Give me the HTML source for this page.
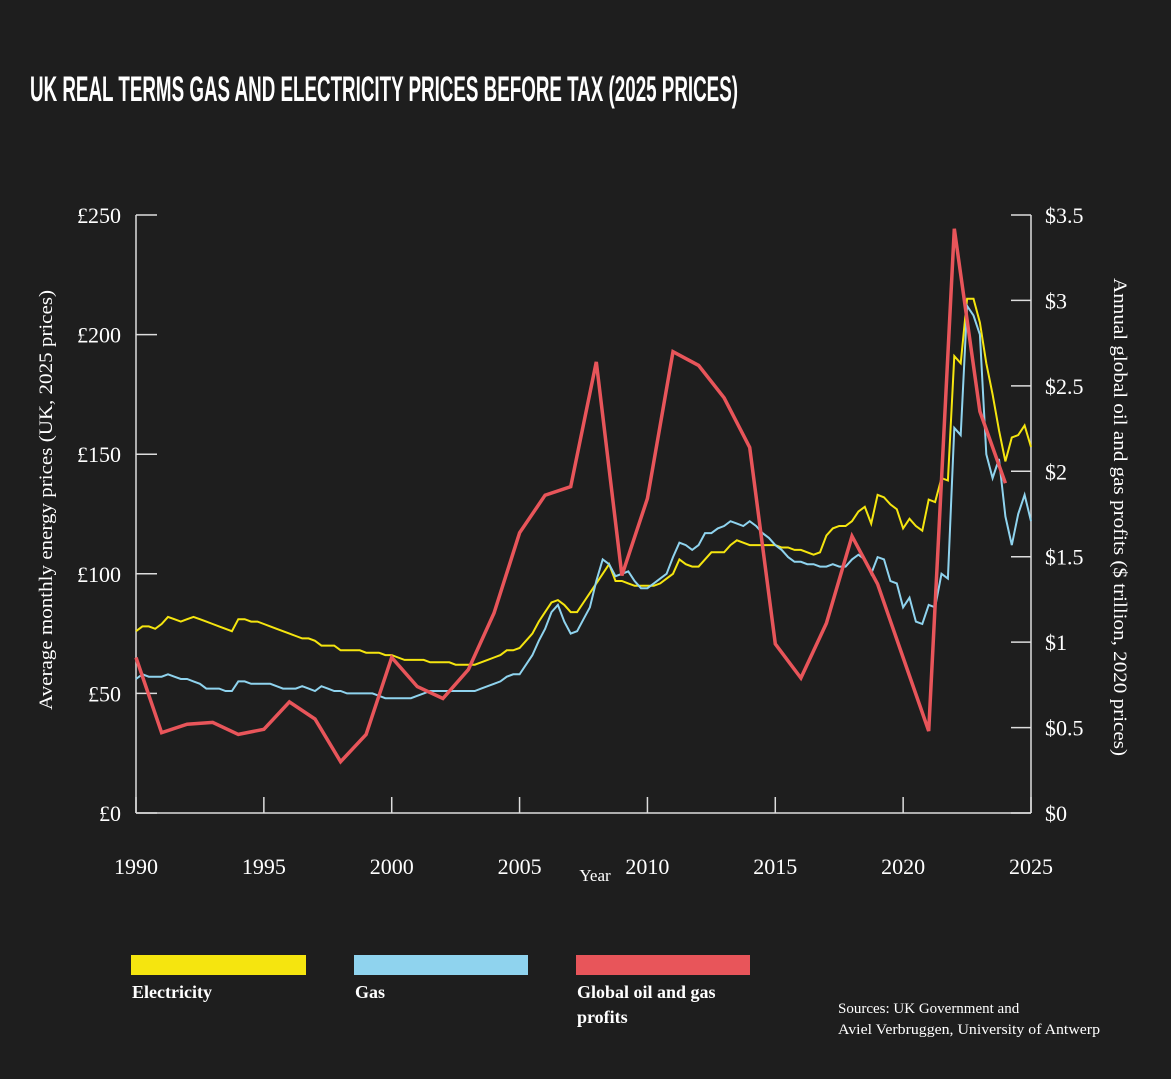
<!DOCTYPE html>
<html><head><meta charset="utf-8">
<style>
html,body{margin:0;padding:0;background:#1e1e1e;}
svg{display:block;}
.serif{font-family:"Liberation Serif",serif;fill:#fff;}
</style></head>
<body>
<svg id="chart" width="1171" height="1079" viewBox="0 0 1171 1079" xmlns="http://www.w3.org/2000/svg">
<rect width="1171" height="1079" fill="#1e1e1e"/>
<text x="30" y="101" textLength="708" lengthAdjust="spacingAndGlyphs" font-family="Liberation Sans Narrow, Liberation Sans, sans-serif" font-weight="bold" font-size="35" fill="#fff">UK REAL TERMS GAS AND ELECTRICITY PRICES BEFORE TAX (2025 PRICES)</text>
<g id="axes"></g>
<g id="series"></g>
<text class="serif" font-size="19" transform="translate(52,500) rotate(-90)" text-anchor="middle" textLength="420" lengthAdjust="spacingAndGlyphs">Average monthly energy prices (UK, 2025 prices)</text>
<text class="serif" font-size="19" transform="translate(1114,517) rotate(90)" text-anchor="middle" textLength="478" lengthAdjust="spacingAndGlyphs">Annual global oil and gas profits ($ trillion, 2020 prices)</text>
<text class="serif" font-size="17" x="595" y="881" text-anchor="middle">Year</text>
<g>
<rect x="131" y="955" width="175" height="20" fill="#f5e50f"/>
<text class="serif" font-size="18" font-weight="bold" x="132" y="998">Electricity</text>
<rect x="354" y="955" width="174" height="20" fill="#8fd3ee"/>
<text class="serif" font-size="18" font-weight="bold" x="355" y="998">Gas</text>
<rect x="576" y="955" width="174" height="20" fill="#e8555a"/>
<text class="serif" font-size="18" font-weight="bold" x="577" y="998">Global oil and gas</text>
<text class="serif" font-size="18" font-weight="bold" x="577" y="1023">profits</text>
</g>
<text class="serif" font-size="15" x="838" y="1013">Sources: UK Government and</text>
<text class="serif" font-size="15" x="838" y="1034" textLength="262" lengthAdjust="spacingAndGlyphs">Aviel Verbruggen, University of Antwerp</text>
</svg>
<script>
const leftTicks=[0,50,100,150,200,250];
const leftTickLabels=["£0","£50","£100","£150","£200","£250"];
const rightTicks=[0,0.5,1,1.5,2,2.5,3,3.5];
const rightTickLabels=["$0","$0.5","$1","$1.5","$2","$2.5","$3","$3.5"];
const xTicks=[1990,1995,2000,2005,2010,2015,2020,2025];
const electricity=[76,78,78,77,79,82,81,80,81,82,81,80,79,78,77,76,81,81,80,80,79,78,77,76,75,74,73,73,72,70,70,70,68,68,68,68,67,67,67,66,66,65,64,64,64,64,63,63,63,63,62,62,62,62,63,64,65,66,68,68,69,72,75,80,84,88,89,87,84,84,88,92,96,100,104,97,97,96,95,95,95,95,96,98,100,106,104,103,103,106,109,109,109,112,114,113,112,112,112,112,112,111,111,110,110,109,108,109,116,119,120,120,122,126,128,121,133,132,129,127,119,123,120,118,131,130,140,139,191,188,215,215,205,188,175,160,147,157,158,162,153];
const gas=[56,58,57,57,57,58,57,56,56,55,54,52,52,52,51,51,55,55,54,54,54,54,53,52,52,52,53,52,51,53,52,51,51,50,50,50,50,50,49,48,48,48,48,48,49,50,51,51,51,51,51,51,51,51,52,53,54,55,57,58,58,62,66,72,77,84,87,80,75,76,81,86,97,106,104,99,100,101,97,94,94,96,98,100,107,113,112,110,112,117,117,119,120,122,121,120,122,120,117,115,112,110,107,105,105,104,104,103,103,104,103,103,106,108,106,100,107,106,97,96,86,90,80,79,87,86,100,98,161,158,212,208,200,150,140,148,124,112,125,133,122];
const profitYears=[1990,1991,1992,1993,1994,1995,1996,1997,1998,1999,2000,2001,2002,2003,2004,2005,2006,2007,2008,2009,2010,2011,2012,2013,2014,2015,2016,2017,2018,2019,2020,2021,2022,2023,2024];
const profits=[0.91,0.47,0.52,0.53,0.46,0.49,0.65,0.55,0.30,0.46,0.91,0.74,0.67,0.84,1.17,1.64,1.86,1.91,2.64,1.39,1.84,2.70,2.62,2.43,2.14,0.99,0.79,1.11,1.62,1.34,0.91,0.48,3.42,2.35,1.93];

const X0=136,X1=1031,Y0=813,Y1=215;
const xs=y=>X0+(y-1990)/35*(X1-X0);
const yl=v=>Y0-v/250*(Y0-Y1);
const yr=v=>Y0-v/3.5*(Y0-Y1);
const NS="http://www.w3.org/2000/svg";
const axes=document.getElementById('axes'),series=document.getElementById('series');
function mk(tag,attrs,parent){const e=document.createElementNS(NS,tag);for(const k in attrs)e.setAttribute(k,attrs[k]);parent.appendChild(e);return e;}

let e=mk('line',{x1:X0,y1:Y1,x2:X0,y2:Y0,stroke:'#ddd','stroke-width':1.5},axes);


e=mk('line',{x1:X1,y1:Y1,x2:X1,y2:Y0,stroke:'#ddd','stroke-width':1.5},axes);


e=mk('line',{x1:X0,y1:Y0,x2:X1,y2:Y0,stroke:'#ddd','stroke-width':1.5},axes);



leftTicks.forEach((v,i)=>{
 const t=mk('line',{x1:X0,x2:X0+21,y1:yl(v),y2:yl(v),stroke:'#ddd','stroke-width':1.5},axes);
 
 
 const l=mk('text',{x:121,y:yl(v)+8,'text-anchor':'end','font-size':22,class:'serif'},axes);
 l.textContent=leftTickLabels[i];
 
 
});
rightTicks.forEach((v,i)=>{
 const t=mk('line',{x1:X1-20,x2:X1,y1:yr(v),y2:yr(v),stroke:'#ddd','stroke-width':1.5},axes);
 
 
 const l=mk('text',{x:1045,y:yr(v)+8,'text-anchor':'start','font-size':22,class:'serif'},axes);
 l.textContent=rightTickLabels[i];
 
 
});
xTicks.forEach(v=>{
 const t=mk('line',{x1:xs(v),x2:xs(v),y1:Y0,y2:Y0-16,stroke:'#ddd','stroke-width':1.5},axes);
 
 
 const l=mk('text',{x:xs(v),y:874,'text-anchor':'middle','font-size':22,class:'serif'},axes);
 l.textContent=v;
 
 
});

function line(pts,color,w,name){
 const p=mk('polyline',{points:pts.map(p=>p[0].toFixed(1)+','+p[1].toFixed(1)).join(' '),fill:'none',stroke:color,'stroke-width':w,'stroke-linejoin':'miter'},series);
 
 
}
line(electricity.map((v,i)=>[xs(1990+i/4),yl(v)]),'#f5e50f',2,'electricity-line');
line(gas.map((v,i)=>[xs(1990+i/4),yl(v)]),'#8fd3ee',2,'gas-line');
line(profits.map((v,i)=>[xs(profitYears[i]),yr(v)]),'#e8555a',3.5,'profits-line');
</script>
</body></html>
